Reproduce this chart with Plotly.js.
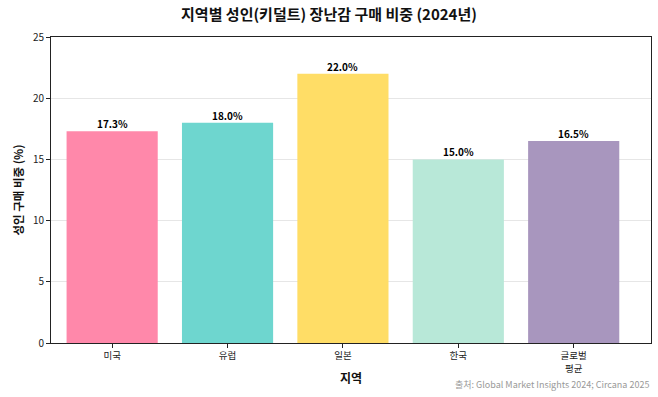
<!DOCTYPE html>
<html><head><meta charset="utf-8">
<script src="https://cdn.plot.ly/plotly-3.0.1.min.js"></script>
<style>html,body{margin:0;padding:0;background:#fff;}#chart{width:658px;height:397px;}</style>
</head><body><div id="chart"></div>
<script>
const regions = ["미국", "유럽", "일본", "한국", "글로벌<br>평균"];
const shares = [17.3, 18.0, 22.0, 15.0, 16.5];
const labels = ["17.3%", "18.0%", "22.0%", "15.0%", "16.5%"];
const colors = ["#FF88AA", "#6ED6CF", "#FFDD66", "#B8E8D8", "#A896BE"];
const FONT = "'Noto Sans CJK KR', 'Noto Sans', sans-serif";
const xs = regions.map((_, i) => i);

const valueAnns = xs.map(i => ({
  x: i, y: shares[i], xref: "x", yref: "y",
  text: "<b>" + labels[i] + "</b>", showarrow: false,
  yanchor: "bottom", xanchor: "center", yshift: -2,
  font: {size: 10, color: "#000", family: FONT}
}));

Plotly.newPlot("chart", [{
  type: "bar",
  x: xs,
  y: shares,
  width: 0.79,
  marker: {color: colors, line: {width: 0}},
  hoverinfo: "skip"
}], {
  width: 658, height: 397,
  margin: {l: 51, r: 7, t: 37, b: 54},
  paper_bgcolor: "#fff", plot_bgcolor: "#fff",
  font: {family: FONT, color: "#222"},
  title: {text: "<b>지역별 성인(키덜트) 장난감 구매 비중 (2024년)</b>", x: 0.5, xanchor: "center", y: 0.962, yanchor: "middle", font: {size: 15, color: "#111", family: FONT}},
  xaxis: {
    tickvals: xs, ticktext: regions,
    range: [-0.53, 4.67],
    showline: true, linecolor: "#222", linewidth: 1, mirror: true,
    ticks: "outside", ticklen: 4, tickcolor: "#222",
    tickfont: {size: 9.5, family: FONT, color: "#222"},
    showgrid: false, zeroline: false,
    title: {text: "<b>지역</b>", font: {size: 12, family: FONT, color: "#111"}, standoff: 0}
  },
  yaxis: {
    range: [0, 25], dtick: 5,
    showline: true, linecolor: "#222", linewidth: 1, mirror: true,
    ticks: "outside", ticklen: 4, tickcolor: "#222",
    tickfont: {size: 10, family: FONT, color: "#222"},
    showgrid: true, gridcolor: "#E6E6E6", gridwidth: 1, zeroline: false,
    title: {text: "<b>성인 구매 비중 (%)</b>", font: {size: 11.5, family: FONT, color: "#111"}, standoff: 6}
  },
  annotations: valueAnns.concat([{
    text: "출처: Global Market Insights 2024; Circana 2025",
    xref: "paper", yref: "paper", x: 1, y: -0.137, xanchor: "right", yanchor: "middle",
    showarrow: false, font: {size: 9, color: "#999", family: FONT}
  }]),
  showlegend: false
}, {displayModeBar: false, staticPlot: true});
</script></body></html>
